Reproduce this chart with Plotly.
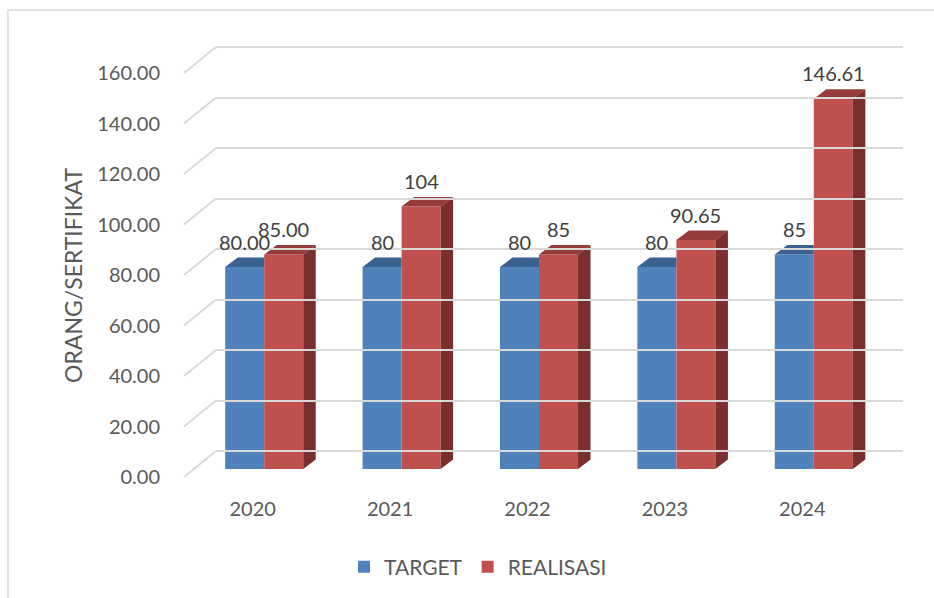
import plotly.graph_objects as go

# ---- data -------------------------------------------------------------
YEARS = ["2020", "2021", "2022", "2023", "2024"]
TARGET = [80, 80, 80, 80, 85]
REALISASI = [85, 104, 85, 90.65, 146.61]
# number of decimals shown in each value label
TARGET_DECIMALS = [2, 0, 0, 0, 0]
REALISASI_DECIMALS = [2, 0, 0, 2, 2]
Y_TICKS = [0, 20, 40, 60, 80, 100, 120, 140, 160]

# ---- styling ----------------------------------------------------------
FONT = "Lato"
BLUE, BLUE_TOP = "#4F81BD", "#3A6190"
RED, RED_TOP, RED_SIDE = "#C0504D", "#943C3A", "#7A2F2E"
GRID = "#D9D9D9"
TEXT = "#595959"
LABEL = "#404040"

# ---- pseudo-3D geometry (pixels) --------------------------------------
W, H = 934, 598
FLOOR_LEFT = 184          # left end of the front floor edge
FLOOR_BASE = 477          # pixel row of value 0 on the front edge
CAT_PX = 137.4            # width of one category slot
UNIT_PX = 2.525           # pixels per value unit
BAR_SHIFT = (11.5, -8)    # bar front faces sit a little into the depth
WALL_SHIFT = (32, -26)    # back wall carrying the gridlines
DEPTH = (12.5, -9.5)      # depth of each column
Y_TOP = 170
WALL_LOW = -10
BAR_W = 0.284             # column width in category units


def px_x(p):
    return p / W


def px_y(p):
    return 1 - p / H


def plane_domains(shift, low=0):
    x0 = FLOOR_LEFT + shift[0]
    x1 = x0 + len(YEARS) * CAT_PX
    base = FLOOR_BASE + shift[1]
    return ([px_x(x0), px_x(x1)],
            [px_y(base - low * UNIT_PX), px_y(base - Y_TOP * UNIT_PX)])


xs = list(range(len(YEARS)))
ddx = DEPTH[0] / CAT_PX
ddy = -DEPTH[1] / UNIT_PX

fig = go.Figure()

# front faces of the columns
fig.add_trace(go.Bar(
    x=xs, y=TARGET, name="TARGET", marker=dict(color=BLUE, line=dict(width=0)),
    width=BAR_W, offset=-BAR_W, xaxis="x2", yaxis="y2", hoverinfo="skip"))
fig.add_trace(go.Bar(
    x=xs, y=REALISASI, name="REALISASI", marker=dict(color=RED, line=dict(width=0)),
    width=BAR_W, offset=0, xaxis="x2", yaxis="y2", hoverinfo="skip"))


def polys(shapes):
    px, py = [], []
    for pts in shapes:
        for a, b in pts + [pts[0]]:
            px.append(a)
            py.append(b)
        px.append(None)
        py.append(None)
    return px, py


# target tops: the part to the right of the column is hidden behind the
# taller realisasi column, so the top is cut at the column's right edge
blue_tops = []
red_tops = []
red_sides = []
for i, (t, r) in enumerate(zip(TARGET, REALISASI)):
    xl, xr = i - BAR_W, i
    blue_tops.append([(xl, t), (xr, t), (xr, t + ddy), (xl + ddx, t + ddy)])
    xl, xr = i, i + BAR_W
    red_tops.append([(xl, r), (xr, r), (xr + ddx, r + ddy), (xl + ddx, r + ddy)])
    red_sides.append([(xr, 0), (xr + ddx, ddy), (xr + ddx, r + ddy), (xr, r)])

for shapes, color in ((blue_tops, BLUE_TOP), (red_tops, RED_TOP), (red_sides, RED_SIDE)):
    px, py = polys(shapes)
    fig.add_trace(go.Scatter(
        x=px, y=py, mode="lines", fill="toself", fillcolor=color,
        line=dict(width=0, color=color), xaxis="x2", yaxis="y2",
        showlegend=False, hoverinfo="skip"))

# value labels above the columns
annotations = []
for i in xs:
    for val, dec, off in ((TARGET[i], TARGET_DECIMALS[i], -BAR_W / 2),
                          (REALISASI[i], REALISASI_DECIMALS[i], BAR_W / 2)):
        annotations.append(dict(
            x=i + off, y=val, xref="x2", yref="y2", text=f"{val:.{dec}f}",
            showarrow=False, yshift=25.5, xanchor="center", yanchor="middle",
            font=dict(family=FONT, size=20, color=LABEL)))

annotations.append(dict(
    x=px_x(73), y=px_y(276), xref="paper", yref="paper", text="ORANG/SERTIFIKAT",
    textangle=-90, showarrow=False, xanchor="center", yanchor="middle",
    font=dict(family=FONT, size=23, color=TEXT)))

# placeholder traces so the floor-edge axes and the back wall subplot are drawn
fig.add_trace(go.Scatter(x=[None], y=[None], xaxis="x", yaxis="y",
                         showlegend=False, hoverinfo="skip"))
fig.add_trace(go.Scatter(x=[None], y=[None], xaxis="x3", yaxis="y3",
                         showlegend=False, hoverinfo="skip"))

# diagonal floor/wall connectors at each gridline
shapes = []
for v in Y_TICKS:
    shapes.append(dict(
        type="line", xref="paper", yref="paper",
        x0=px_x(FLOOR_LEFT), y0=px_y(FLOOR_BASE - v * UNIT_PX),
        x1=px_x(FLOOR_LEFT + WALL_SHIFT[0]),
        y1=px_y(FLOOR_BASE + WALL_SHIFT[1] - v * UNIT_PX),
        line=dict(color=GRID, width=2), layer="below"))

# chart area border
shapes.append(dict(type="rect", xref="paper", yref="paper",
                   x0=px_x(8), y0=px_y(10), x1=1.05, y1=-0.05,
                   line=dict(color=GRID, width=1.5), layer="below"))

fx, fy = plane_domains((0, 0))
bx, by = plane_domains(BAR_SHIFT)
wx, wy = plane_domains(WALL_SHIFT, WALL_LOW)
xrange = [-0.5, len(YEARS) - 0.5]

hidden = dict(showgrid=False, zeroline=False, showticklabels=False,
              showline=False, ticks="", automargin=False)

fig.update_layout(
    width=W, height=H,
    margin=dict(l=0, r=0, t=0, b=0, autoexpand=False),
    paper_bgcolor="white", plot_bgcolor="rgba(0,0,0,0)",
    font=dict(family=FONT, color=TEXT),
    xaxis=dict(domain=fx, range=xrange, anchor="y", tickmode="array",
               tickvals=xs, ticktext=YEARS, showticklabels=True,
               showgrid=False, zeroline=False, showline=False, automargin=False,
               ticks="outside", ticklen=14, tickcolor="rgba(0,0,0,0)",
               tickfont=dict(family=FONT, size=20, color=TEXT)),
    yaxis=dict(domain=fy, range=[0, Y_TOP], anchor="x", tickmode="array",
               tickvals=Y_TICKS, tickformat=".2f", showticklabels=True,
               showgrid=False, zeroline=False, showline=False, automargin=False,
               ticks="outside", ticklen=19, tickcolor="rgba(0,0,0,0)",
               tickfont=dict(family=FONT, size=20, color=TEXT)),
    xaxis2=dict(domain=bx, range=xrange, anchor="y2", **hidden),
    yaxis2=dict(domain=by, range=[0, Y_TOP], anchor="x2", **hidden),
    xaxis3=dict(domain=wx, range=xrange, anchor="y3", **hidden),
    yaxis3=dict(domain=wy, range=[WALL_LOW, Y_TOP], anchor="x3",
                tickmode="array", tickvals=Y_TICKS, showgrid=True,
                gridcolor=GRID, gridwidth=2, automargin=False,
                zeroline=False, showticklabels=False, showline=False, ticks=""),
    showlegend=True,
    legend=dict(orientation="h", x=px_x(478), xanchor="center", y=px_y(567),
                yanchor="middle", font=dict(family=FONT, size=21, color=TEXT),
                itemwidth=30, bgcolor="rgba(0,0,0,0)"),
    annotations=annotations,
    shapes=shapes,
)

fig.write_html("out.html")
